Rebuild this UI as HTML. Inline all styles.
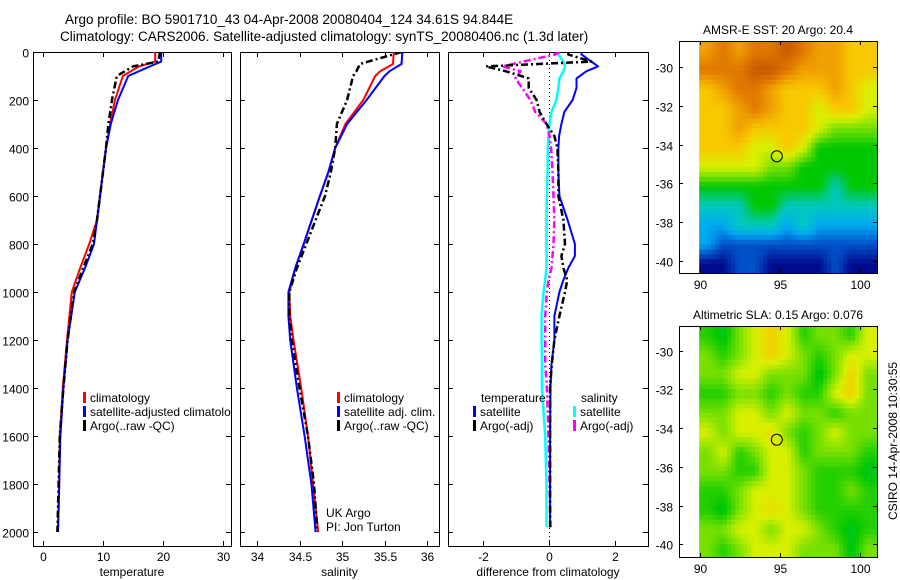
<!DOCTYPE html>
<html><head><meta charset="utf-8"><style>
html,body{margin:0;padding:0;background:#fff}
svg{display:block;font-family:"Liberation Sans",sans-serif}
text{font-size:12px;fill:#000}
</style></head><body>
<svg id="fig" width="900" height="580" viewBox="0 0 900 580">
<defs>
<clipPath id="c1"><rect x="33" y="52" width="198" height="494"/></clipPath>
<clipPath id="c2"><rect x="240" y="52" width="199" height="494"/></clipPath>
<clipPath id="c3"><rect x="448" y="52" width="200" height="494"/></clipPath>
</defs>
<text x="65" y="24" style="font-size:13.5px">Argo profile: BO 5901710_43 04-Apr-2008 20080404_124 34.61S 94.844E</text>
<text x="60" y="41" style="font-size:13.5px">Climatology: CARS2006. Satellite-adjusted climatology: synTS_20080406.nc (1.3d later)</text>
<g id="layer"></g>
</svg>
<script>
// ---- profile data ----
const tDepth=[0,40,60,100,200,300,400,600,700,800,900,1000,1200,1400,1600,1800,2000];
const tClim=[18.7,18.7,16,13.3,12,11.2,10.5,9.5,9,7.7,6.2,4.8,4.0,3.3,2.8,2.7,2.5];
const tSat=[19.7,19.7,17.8,14.2,12.5,11.3,10.5,9.5,9,8.5,7,5.3,4.1,3.4,2.9,2.7,2.5];
const tArgo=[19.5,19.2,15,12.3,11.5,10.9,10.5,9.5,9,8.3,6.7,5.2,4.1,3.4,2.8,2.6,2.4];
const sDepth=[0,50,80,100,200,300,400,500,600,800,900,1000,1100,1200,1400,1600,1800,2000];
const sClim=[35.61,35.6,35.45,35.39,35.25,35.04,34.92,34.84,34.74,34.55,34.45,34.38,34.39,34.43,34.52,34.6,34.66,34.72];
const sSat=[35.71,35.7,35.56,35.5,35.29,35.06,34.92,34.84,34.74,34.55,34.45,34.37,34.37,34.39,34.47,34.56,34.64,34.69];
const sArgo=[35.7,35.21,35.17,35.13,35.06,34.94,34.92,34.87,34.8,34.58,34.47,34.38,34.38,34.41,34.5,34.6,34.67,34.71];
const dDepth=[0,10,40,60,80,110,150,200,250,300,350,400,500,600,700,800,850,900,950,1000,1100,1200,1300,1400,1600,1800,1980];
const dTempSat=[1.0,1.0,1.3,1.5,1.15,0.85,0.85,0.73,0.48,0.39,0.32,0.3,0.3,0.33,0.58,0.8,0.8,0.6,0.45,0.33,0.18,0.18,0.09,0.06,0.05,0.05,0.05];
const dTempArgo=[0.6,0.6,1.3,-1.9,-1.3,-0.6,-0.6,-0.36,-0.27,-0.06,0.18,0.27,0.3,0.3,0.45,0.5,0.39,0.45,0.57,0.5,0.33,0.18,0.1,0.05,0.05,0.05,0.05];
const dSalSat=[0.27,0.3,0.45,0.5,0.45,0.33,0.3,0.24,0.09,0.03,0.0,-0.02,-0.03,-0.05,-0.06,-0.06,-0.06,-0.06,-0.1,-0.15,-0.21,-0.21,-0.2,-0.2,-0.1,-0.06,-0.06];
const dSalArgo=[0.33,0.2,-0.76,-1.4,-0.85,-1.0,-0.8,-0.55,-0.4,-0.06,0.03,0.08,0.12,0.15,0.18,0.15,0.12,0.09,0.0,-0.05,-0.1,-0.1,-0.1,-0.05,0.0,0.03,0.06];
const tTicks=[0,10,20,30];
const sTicks=[34,34.5,35,35.5,36];
const dTicks=[-2,0,2];
const yTicks=[0,200,400,600,800,1000,1200,1400,1600,1800,2000];
// ---- map data (colour-ramp levels) ----
const mapLon=[90,91,92,93,94,95,96,97,98,99,100];
const sstGrid=[
[8,9,8,9,9,10,9,8,8,7,7],[9,9,9,10,10,9,8,8,8,7,7],[7,8,9,9,8,7,7,7,8,7,6],
[7,7,8,9,8,7,7,6,7,7,6],[7,7,8,7,7,7,7,6,5,5,5],[7,7,7,6,6,7,6,4,4,4,4],
[6,6,6,6,5,5,4,4,4,4,4],[4,4,4,4,4,4,4,4,3,4,4],[3,3,3,4,4,3,3,3,3,3,3],
[2,2,3,3,3,2,3,2,2,2,2],[2,1,1,1,1,1,1,1,1,1,1],[0,0,1,1,0,0,0,0,1,0,0]];
const slaGrid=[
[4.3,3.8,5,6,6.8,6,4.3,5,5,4.3,6],[5,4.3,5,6,6.8,6,5,4.3,5,6,6],[5,5,6,6,5,5,5,3.8,5,6.8,5],
[4.3,4.3,5,5,4.3,5,4.3,4.3,6,6.8,5],[5,5,6,6,5,6,5,5,4.3,5,5],[6,5,6,6,6.5,5,4.3,5,6,5,5],
[5,6,4.3,5,6,6,4.3,5,5,5,4.3],[5,5,4.3,4.3,6,6,5,4.3,4.3,4.3,3.8],[4.3,4.3,5,6,6,6,5,4.3,4.3,5,4.3],
[4.3,3.8,5,6,6.5,6,5,4.3,4.3,4.3,4.3],[5,5,6,6,5,6,6,5,4.3,3.8,4.3],[5,4.3,5,6,6,6,5,5,5,3.8,5]];
const palette=["#000a8c","#0050c8","#00a8f0","#00c8c0","#00c800","#78e000","#d8f000","#f8c800","#f0a000","#e07800","#c85a00"];
const latTicks=[-30,-32,-34,-36,-38,-40];
const lonTicks=[90,95,100];
const argoLon=94.8, argoLat=-34.6;

const NS="http://www.w3.org/2000/svg";
const L=document.getElementById('layer');
function mk(tag,attrs,parent){const e=document.createElementNS(NS,tag);for(const k in attrs)e.setAttribute(k,attrs[k]);(parent||L).appendChild(e);return e;}
const yTop=52,yBot=546;
const yS=d=>52+d*0.24;
const panels=[
 {x0:33,x1:231,sx:v=>43+v*6,ticks:tTicks,lab:"temperature",clip:"c1",name:"temperature-panel"},
 {x0:240,x1:439,sx:v=>257+(v-34)*85,ticks:sTicks,lab:"salinity",clip:"c2",name:"salinity-panel"},
 {x0:448,x1:648,sx:v=>548.5+v*33,ticks:dTicks,lab:"difference from climatology",clip:"c3",name:"difference-panel"}];
panels.forEach((p,i)=>{
 const g=mk('g',{});
 
 
 const r=mk('rect',{x:p.x0+0.5,y:yTop+0.5,width:p.x1-p.x0,height:yBot-yTop,fill:'none',stroke:'#000','stroke-width':1},g);
 
 
 p.ticks.forEach(t=>{const x=Math.round(p.sx(t))+0.5;
  mk('line',{x1:x,x2:x,y1:yBot,y2:yBot-5,stroke:'#000'},g);
  mk('line',{x1:x,x2:x,y1:yTop,y2:yTop+5,stroke:'#000'},g);
  const tx=mk('text',{x:x,y:561,'text-anchor':'middle'},g);tx.textContent=String(t);
  
  });
 yTicks.forEach(d=>{const y=Math.round(yS(d))+0.5;
  mk('line',{x1:p.x0,x2:p.x0+5,y1:y,y2:y,stroke:'#000'},g);
  mk('line',{x1:p.x1,x2:p.x1-5,y1:y,y2:y,stroke:'#000'},g);
  if(i===0){const tx=mk('text',{x:29,y:y+5,'text-anchor':'end'},g);tx.textContent=String(d);
   
   }});
 const xl=mk('text',{x:(p.x0+p.x1)/2,y:576,'text-anchor':'middle'},g);xl.textContent=p.lab;
 
 
});
function prof(pi,depths,vals,color,dash,w,name){
 const p=panels[pi];
 const pts=depths.map((d,k)=>p.sx(vals[k]).toFixed(1)+","+yS(d).toFixed(1)).join(" ");
 const e=mk('polyline',{points:pts,fill:'none',stroke:color,'stroke-width':w,'clip-path':'url(#'+p.clip+')','stroke-linejoin':'round'});
 if(dash)e.setAttribute('stroke-dasharray',dash);
 
 
}
const DD="7,3,2,3";
prof(0,tDepth,tClim,'#ff0000',null,2,'temperature-climatology-line');
prof(0,tDepth,tSat,'#0000ff',null,2,'temperature-satellite-line');
prof(0,tDepth,tArgo,'#000',DD,2.5,'temperature-argo-line');
prof(1,sDepth,sClim,'#ff0000',null,2,'salinity-climatology-line');
prof(1,sDepth,sSat,'#0000ff',null,2,'salinity-satellite-line');
prof(1,sDepth,sArgo,'#000',DD,2.5,'salinity-argo-line');
const zx=Math.round(panels[2].sx(0))+0.5;
const zl=mk('line',{x1:zx,x2:zx,y1:yTop,y2:yBot,stroke:'#000','stroke-dasharray':'1,3'});


prof(2,dDepth,dSalSat,'#00ffff',null,2.5,'salinity-satellite-diff-line');
prof(2,dDepth,dSalArgo,'#ff00ff',DD,2.5,'salinity-argo-diff-line');
prof(2,dDepth,dTempSat,'#0000ff',null,2,'temperature-satellite-diff-line');
prof(2,dDepth,dTempArgo,'#000',DD,2.5,'temperature-argo-diff-line');
function leg(x,y,color,label,clip,name){
 const g=mk('g',{'clip-path':clip?'url(#'+clip+')':''});
 
 
 mk('rect',{x:x,y:y-10,width:3,height:11,fill:color},g);
 const t=mk('text',{x:x+7,y:y},g);t.textContent=label;
}
leg(83,402,'#ff0000','climatology','c1','legend-entry-climatology');
leg(83,416,'#0000ff','satellite-adjusted climatology','c1','legend-entry-satellite');
leg(83,430,'#000','Argo(..raw -QC)','c1','legend-entry-argo');
leg(337,402,'#ff0000','climatology','c2','legend-entry-climatology');
leg(337,416,'#0000ff','satellite adj. clim.','c2','legend-entry-satellite');
leg(337,430,'#000','Argo(..raw -QC)','c2','legend-entry-argo');
let t=mk('text',{x:481,y:402});t.textContent='temperature';


t=mk('text',{x:581,y:402});t.textContent='salinity';


leg(473,416,'#0000ff','satellite',null,'legend-entry-temp-satellite');
leg(473,430,'#000','Argo(-adj)',null,'legend-entry-temp-argo');
leg(573,416,'#00ffff','satellite',null,'legend-entry-sal-satellite');
leg(573,430,'#ff00ff','Argo(-adj)',null,'legend-entry-sal-argo');
t=mk('text',{x:326,y:517});t.textContent='UK Argo';


t=mk('text',{x:326,y:531});t.textContent='PI: Jon Turton';


// colour ramp
function hex2rgb(h){return [1,3,5].map(i=>parseInt(h.substr(i,2),16));}
const palRGB=palette.map(hex2rgb);
function ramp(v){v=Math.max(0,Math.min(palette.length-1,v));const i=Math.min(Math.floor(v),palette.length-2),f=v-i;
 const a=palRGB[i],b=palRGB[i+1];return 'rgb('+a.map((c,k)=>Math.round(c+(b[k]-c)*f)).join(',')+')';}
function sample(grid,r,c){ // bilinear on cell centres
 const R=grid.length,C=grid[0].length;
 r=Math.max(0,Math.min(R-1,r));c=Math.max(0,Math.min(C-1,c));
 const r0=Math.min(Math.floor(r),R-2),c0=Math.min(Math.floor(c),C-2),fr=r-r0,fc=c-c0;
 const v00=grid[r0][c0],v01=grid[r0][c0+1],v10=grid[r0+1][c0],v11=grid[r0+1][c0+1];
 return (v00*(1-fc)+v01*fc)*(1-fr)+(v10*(1-fc)+v11*fc)*fr;}
function drawMap(top,bot,latTop,latBot,grid,title,name){
 const g=mk('g',{});
 
 
 const x0=679,x1=877;
 const lonX=v=>700+(v-90)*16;
 const latY=v=>top+(latTop-v)*(bot-top)/(latTop-latBot);
 const N=4, R=grid.length, C=grid[0].length;
 for(let ri=0;ri<R*N;ri++)for(let ci=0;ci<C*N;ci++){
  const v=sample(grid,(ri+0.5)/N-0.5,(ci+0.5)/N-0.5);
  const xa=lonX(mapLon[0]-0.05+ci/N), xb=ci===C*N-1?x1:lonX(mapLon[0]-0.05+(ci+1)/N);
  const ya=latY(latTop-ri/N), yb=ri===R*N-1?bot:latY(latTop-(ri+1)/N);
  const cell=mk('rect',{x:xa.toFixed(1),y:ya.toFixed(1),width:(xb-xa+0.6).toFixed(1),height:(yb-ya+0.6).toFixed(1),fill:ramp(v)},g);
  
  
 }
 const fr=mk('rect',{x:x0+0.5,y:top+0.5,width:x1-x0,height:bot-top,fill:'none',stroke:'#000'},g);
 
 
 latTicks.forEach(v=>{const y=Math.round(latY(v))+0.5;
  mk('line',{x1:x0,x2:x0+4,y1:y,y2:y,stroke:'#000'},g);
  mk('line',{x1:x1,x2:x1-4,y1:y,y2:y,stroke:'#000'},g);
  const tx=mk('text',{x:673,y:y+5,'text-anchor':'end'},g);tx.textContent=String(v);
  
  });
 lonTicks.forEach(v=>{const x=Math.round(lonX(v))+0.5;
  mk('line',{x1:x,x2:x,y1:top,y2:top+4,stroke:'#000'},g);
  mk('line',{x1:x,x2:x,y1:bot,y2:bot-4,stroke:'#000'},g);
  const tx=mk('text',{x:x,y:bot+16,'text-anchor':'middle'},g);tx.textContent=String(v);
  
  });
 const c=mk('circle',{cx:lonX(argoLon),cy:latY(argoLat),r:5.5,fill:'none',stroke:'#000'},g);
 
 
 const tt=mk('text',{x:778,y:top-7,'text-anchor':'middle'},g);tt.textContent=title;
 
 
}
drawMap(41,273,-28.66,-40.62,sstGrid,'AMSR-E SST: 20 Argo: 20.4','sst-map');
drawMap(326,557,-28.73,-40.65,slaGrid,'Altimetric SLA: 0.15 Argo: 0.076','sla-map');
t=mk('text',{x:897,y:441,'text-anchor':'middle',transform:'rotate(-90 897 441)'});t.textContent='CSIRO 14-Apr-2008 10:30:55';


</script>
</body></html>
